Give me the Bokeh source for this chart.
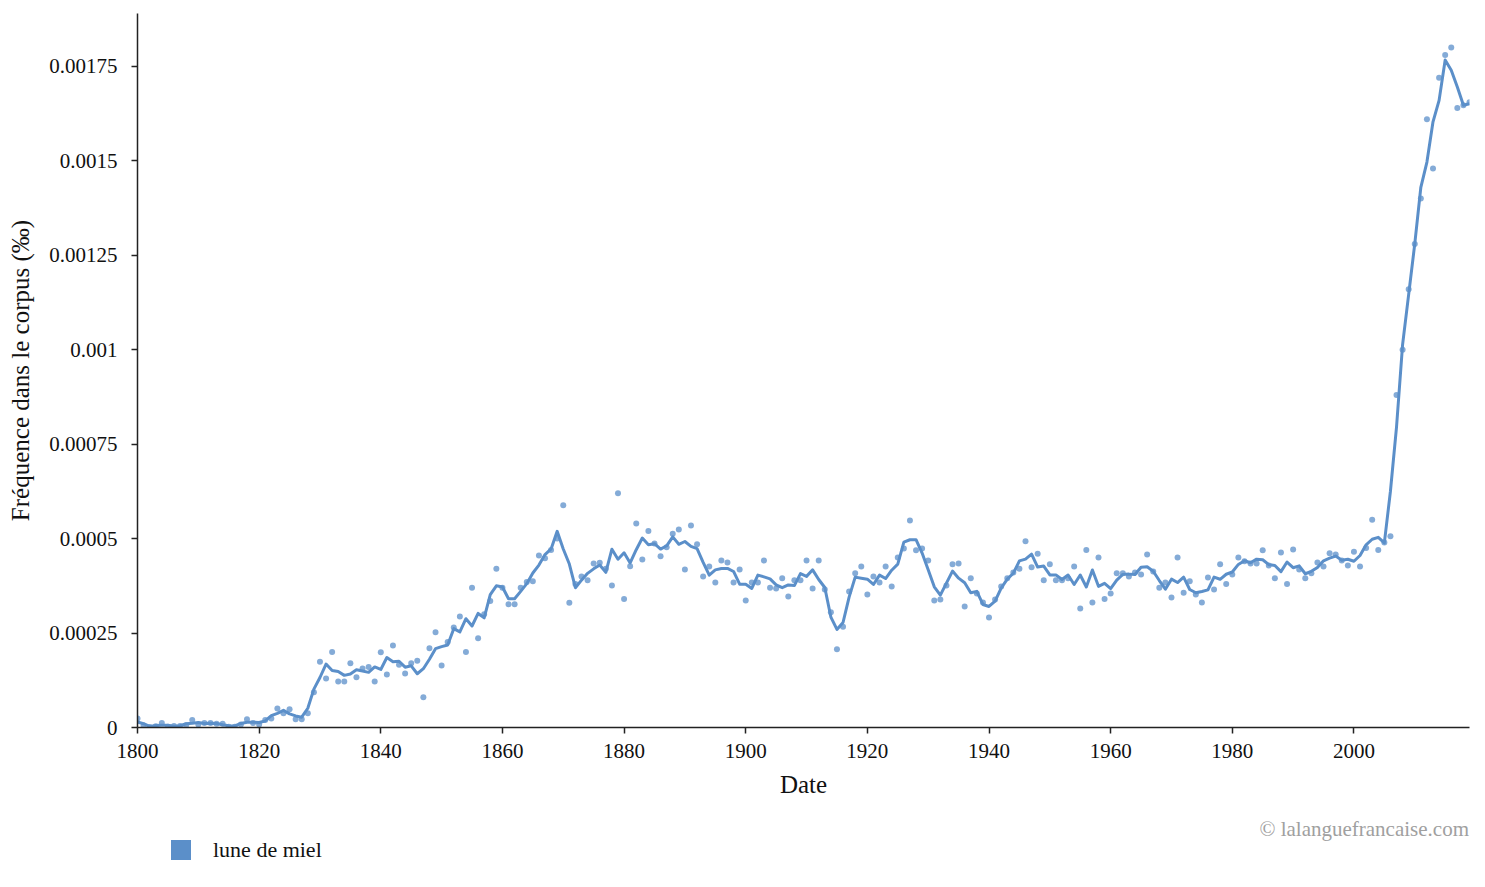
import pandas as pd
from bokeh.embed import file_html
from bokeh.resources import INLINE
from bokeh.layouts import column
from bokeh.plotting import figure
from bokeh.models import (ColumnDataSource, FixedTicker, CustomJSTickFormatter,
                          Div, Range1d)

# yearly frequency of "lune de miel" (per mille), 1800 -> 2019
years = list(range(1800, 2020))
freq = [
    0.000024, 0.000005, 0.000001, 0.000003, 0.000012, 0.000002, 0.000004, 0.000004, 0.000006, 0.00002,
    0.000008, 0.000012, 0.000012, 0.00001, 0.00001, 0.000002, 0.000002, 0.000008, 0.000022, 0.000012,
    0.000008, 0.00002, 0.000024, 0.00005, 0.000038, 0.000048, 0.000022, 0.000022, 0.000038, 0.000093,
    0.000174, 0.00013, 0.0002, 0.000122, 0.000122, 0.00017, 0.000133, 0.000156, 0.00016, 0.000122,
    0.000199, 0.00014, 0.000217, 0.000166, 0.000143, 0.00017, 0.000177, 0.00008, 0.00021, 0.000252,
    0.000164, 0.000226, 0.000265, 0.000294, 0.0002, 0.00037, 0.000236, 0.0003, 0.000335, 0.00042,
    0.00037, 0.000326, 0.000326, 0.00037, 0.000385, 0.000387, 0.000455, 0.000448, 0.00047, 0.0005,
    0.000588, 0.00033, 0.00038, 0.0004, 0.00039, 0.000434, 0.000436, 0.00042, 0.000376, 0.00062,
    0.00034, 0.000427, 0.00054, 0.000445, 0.00052, 0.000487, 0.000453, 0.000477, 0.000513, 0.000524,
    0.000418, 0.000535, 0.000485, 0.0004, 0.000426, 0.000384, 0.000442, 0.000437, 0.000384, 0.000418,
    0.000336, 0.000384, 0.000384, 0.000442, 0.00037, 0.000368, 0.000395, 0.000347, 0.00039, 0.00039,
    0.000442, 0.000368, 0.000442, 0.000365, 0.000305, 0.000207, 0.000267, 0.00036, 0.000408, 0.000426,
    0.000352, 0.0004, 0.000384, 0.000426, 0.000373, 0.00045, 0.000474, 0.000548, 0.000469, 0.000474,
    0.000442, 0.000336, 0.000339, 0.000376, 0.000432, 0.000434, 0.00032, 0.000395, 0.000355, 0.000331,
    0.000291, 0.000339, 0.000373, 0.000395, 0.00041, 0.00042, 0.000493, 0.000424, 0.00046, 0.00039,
    0.000432, 0.00039, 0.00039, 0.000395, 0.000426, 0.000315, 0.00047, 0.000331, 0.00045, 0.00034,
    0.000355, 0.000408, 0.000408, 0.0004, 0.00041, 0.000405, 0.000458, 0.000413, 0.00037, 0.000384,
    0.000344, 0.00045, 0.000357, 0.000387, 0.000352, 0.000331, 0.000397, 0.000365, 0.000432, 0.00038,
    0.000405, 0.00045, 0.00044, 0.000434, 0.000434, 0.000469, 0.000429, 0.000395, 0.000463, 0.00038,
    0.000471, 0.000418, 0.000395, 0.000408, 0.000437, 0.000426, 0.000461, 0.000458, 0.000442, 0.000429,
    0.000465, 0.000426, 0.000475, 0.00055, 0.00047, 0.00049, 0.000506, 0.00088, 0.001, 0.00116,
    0.00128, 0.0014, 0.00161, 0.00148, 0.00172, 0.00178, 0.0018, 0.00164, 0.001647, 0.001655,
]
x_ticks = [1800, 1820, 1840, 1860, 1880, 1900, 1920, 1940, 1960, 1980, 2000]
y_ticks = [0, 0.00025, 0.0005, 0.00075, 0.001, 0.00125, 0.0015, 0.00175]
series_name = "lune de miel"
credit_text = "© lalanguefrancaise.com"

BLUE = "#5b8fc9"
FONT = "Liberation Serif"

df = pd.DataFrame({"year": years, "freq": freq})
# centered 3-year moving average, as drawn by the original chart
df["smooth"] = df["freq"].rolling(3, center=True, min_periods=1).mean()
source = ColumnDataSource(df)

p = figure(width=1477, height=805, output_backend="svg", toolbar_location=None,
           x_range=Range1d(1800, 2019), y_range=Range1d(0, 0.00189),
           min_border_left=137, min_border_top=13, min_border_right=8, min_border_bottom=78)
p.outline_line_color = None
p.grid.grid_line_color = None

p.scatter("year", "freq", source=source, size=6, fill_color=BLUE, fill_alpha=0.75,
          line_color=None)
p.line("year", "smooth", source=source, line_color=BLUE, line_width=3, line_join="round")

# axes
for ax in (p.xaxis[0], p.yaxis[0]):
    ax.axis_line_color = "#222222"
    ax.axis_line_width = 1.5
    ax.major_tick_line_color = "#222222"
    ax.major_tick_line_width = 1.5
    ax.major_tick_out = 6
    ax.major_tick_in = 0
    ax.minor_tick_line_color = None
    ax.major_label_text_font = FONT
    ax.major_label_text_font_size = "21px"
    ax.major_label_text_color = "#111111"
    ax.axis_label_text_font = FONT
    ax.axis_label_text_font_size = "25px"
    ax.axis_label_text_font_style = "normal"
    ax.axis_label_text_color = "#111111"

p.xaxis.ticker = FixedTicker(ticks=x_ticks)
p.xaxis.axis_label = "Date"
p.xaxis.major_label_standoff = 10
p.xaxis.axis_label_standoff = 10

p.yaxis.ticker = FixedTicker(ticks=y_ticks)
p.yaxis.formatter = CustomJSTickFormatter(code="return parseFloat(tick.toPrecision(6)).toString();")
p.yaxis.axis_label = "Fréquence dans le corpus (‰)"
p.yaxis.major_label_standoff = 14
p.yaxis.axis_label_standoff = 12

# legend swatch + label on the left, credit on the right, under the chart
footer = Div(width=1477, height=75, margin=0, text=f"""
<div style="position:relative;width:1477px;height:75px;font-family:'Liberation Serif';line-height:1;">
  <span style="position:absolute;right:8px;top:14px;font-size:21px;color:#a0a0a0;white-space:nowrap;">{credit_text}</span>
  <span style="position:absolute;left:171px;top:35px;width:20px;height:20px;background:{BLUE};"></span>
  <span style="position:absolute;left:213px;top:34px;font-size:22px;color:#111111;white-space:nowrap;">{series_name}</span>
</div>""")

layout = column(p, footer, spacing=0)

open("out.html", "w").write(file_html(layout, INLINE))
